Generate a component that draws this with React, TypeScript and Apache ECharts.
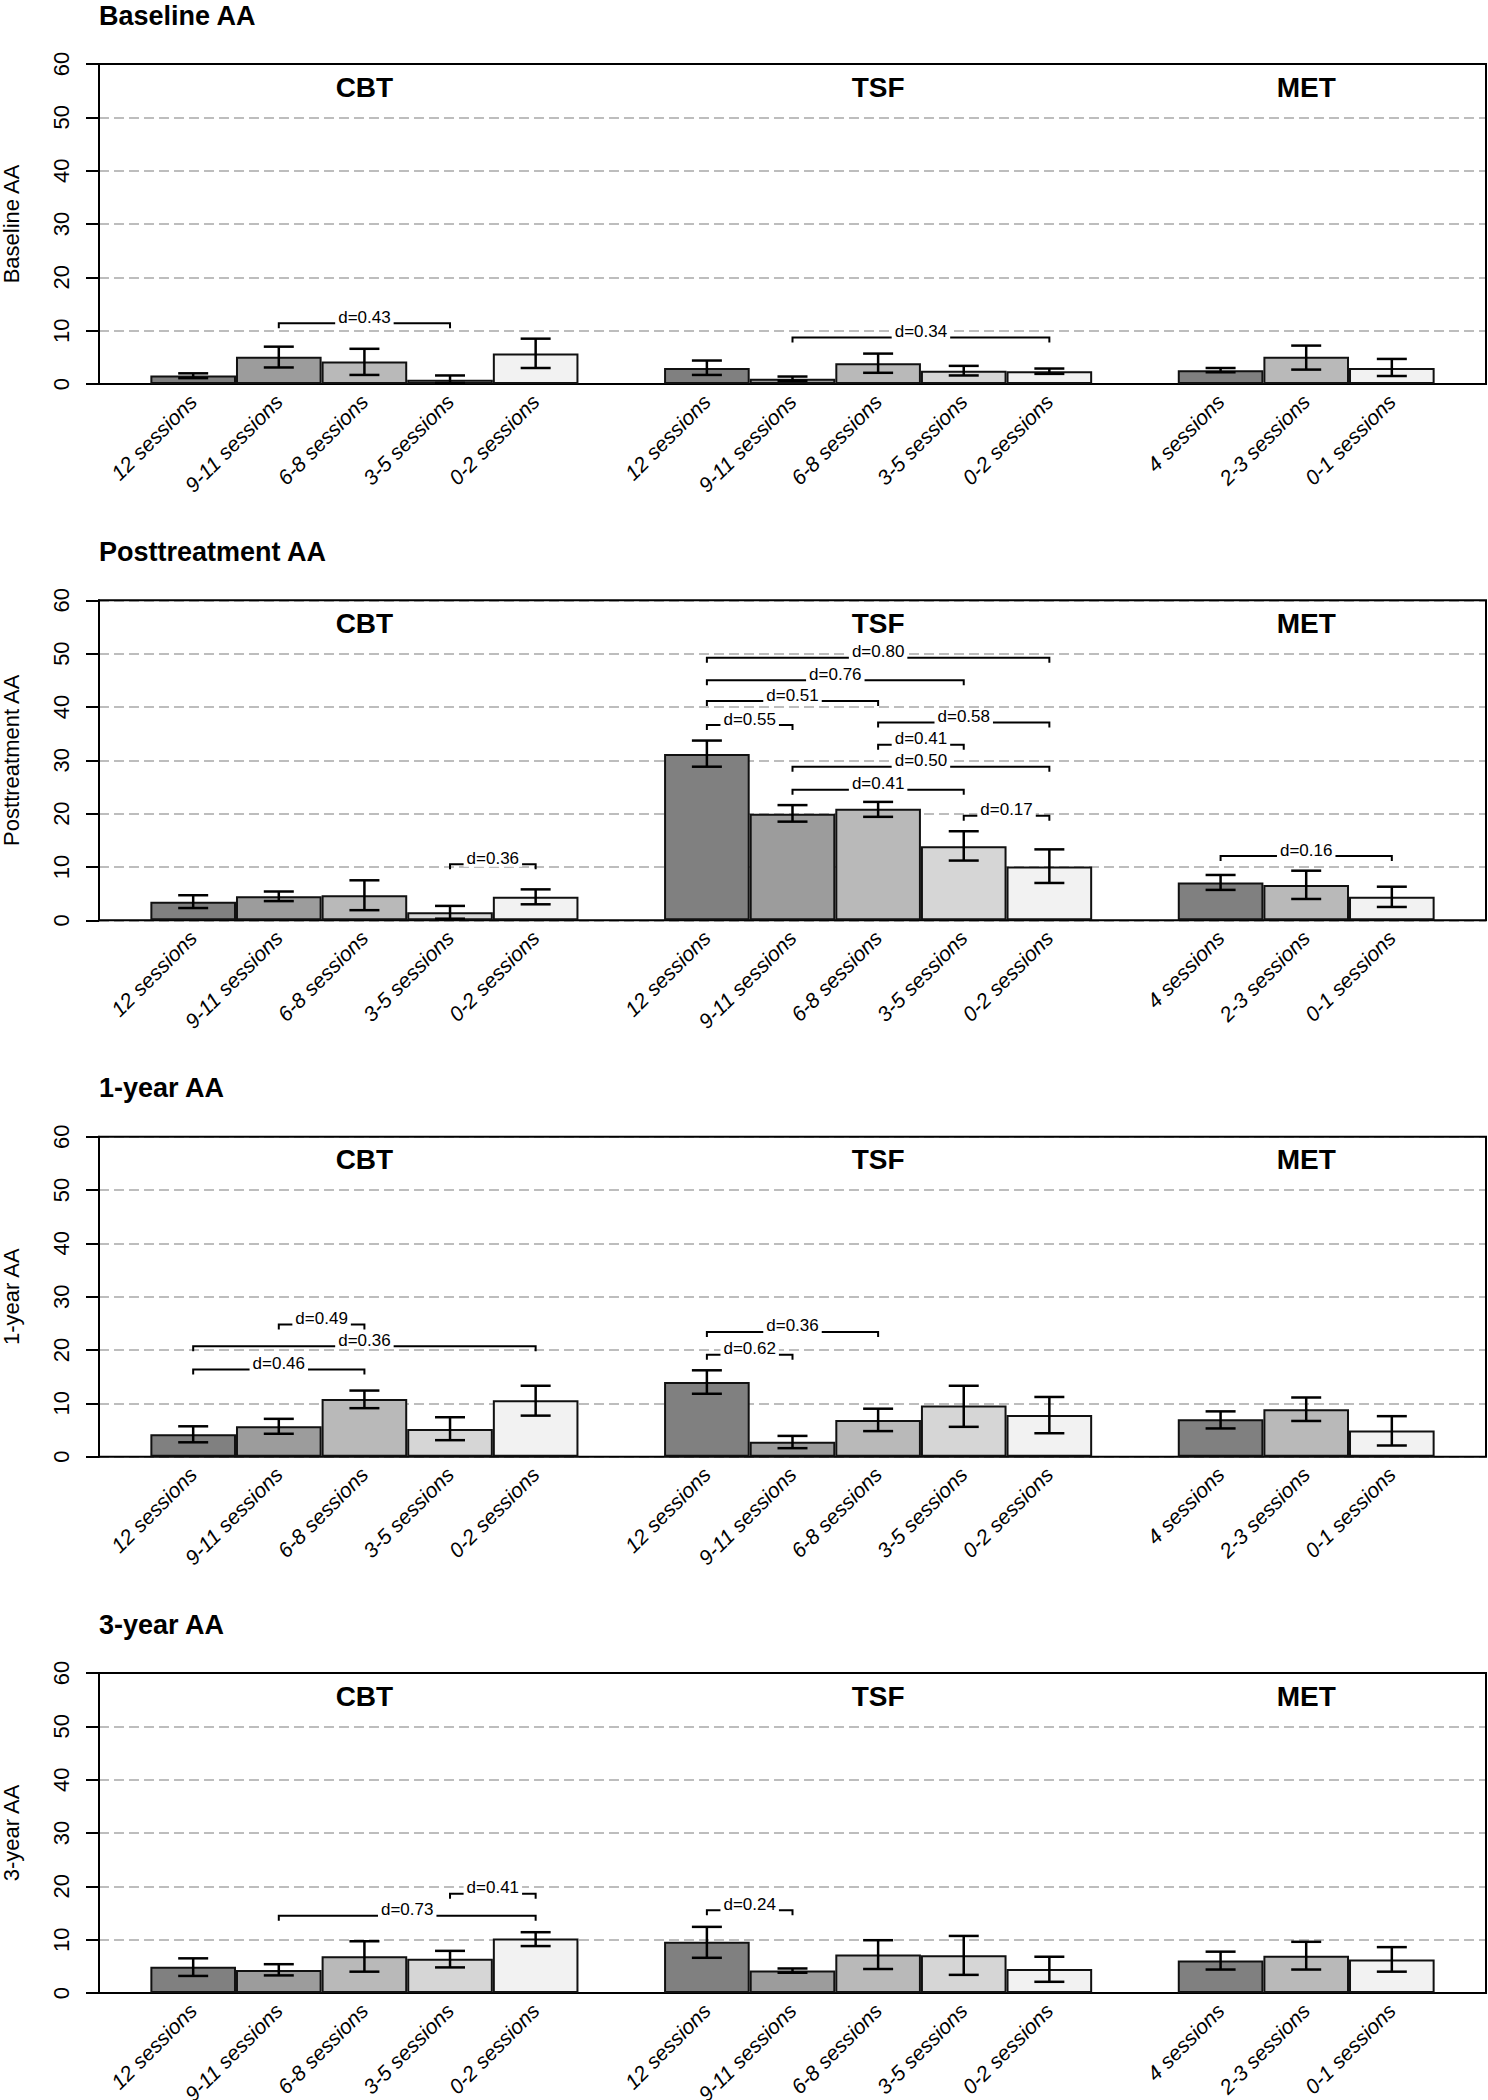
import React, { useEffect, useRef } from 'react';
import * as echarts from 'echarts';

// ---------- data ----------
const panelTitles = ['Baseline AA', 'Posttreatment AA', '1-year AA', '3-year AA'];
const categories = [
  '12 sessions', '9-11 sessions', '6-8 sessions', '3-5 sessions', '0-2 sessions', ' ',
  '12 sessions', '9-11 sessions', '6-8 sessions', '3-5 sessions', '0-2 sessions', '  ',
  '4 sessions', '2-3 sessions', '0-1 sessions',
];
const groupNames = ['CBT', 'TSF', 'MET'];
const groupCenterSlots = [2, 8, 13];
const barSlots = [0, 1, 2, 3, 4, 6, 7, 8, 9, 10, 12, 13, 14];
const yTicks = [0, 10, 20, 30, 40, 50, 60];

const baselineMean = [1.6, 5.1, 4.2, 0.8, 5.7, 3.0, 1.0, 3.9, 2.5, 2.4, 2.6, 5.1, 3.0];
const baselineLow = [1.1, 3.1, 1.7, 0.2, 3.0, 1.7, 0.6, 2.1, 1.6, 1.9, 2.2, 2.7, 1.5];
const baselineHigh = [2.0, 7.0, 6.6, 1.6, 8.5, 4.4, 1.4, 5.7, 3.4, 2.9, 3.0, 7.2, 4.7];

const postMean = [3.5, 4.5, 4.7, 1.5, 4.4, 31.2, 20.0, 20.9, 13.9, 10.1, 7.1, 6.6, 4.4];
const postLow = [2.3, 3.6, 1.9, 0.3, 3.0, 28.8, 18.5, 19.4, 11.2, 7.0, 5.7, 4.0, 2.5];
const postHigh = [4.7, 5.4, 7.5, 2.7, 5.8, 33.7, 21.6, 22.2, 16.7, 13.3, 8.5, 9.3, 6.3];

const year1Mean = [4.2, 5.7, 10.8, 5.2, 10.6, 14.0, 2.8, 6.9, 9.6, 7.8, 7.0, 8.9, 4.9];
const year1Low = [2.7, 4.3, 9.1, 3.1, 7.7, 11.8, 1.6, 4.8, 5.6, 4.4, 5.3, 6.7, 2.1];
const year1High = [5.7, 7.1, 12.4, 7.4, 13.3, 16.2, 3.9, 9.0, 13.3, 11.2, 8.5, 11.1, 7.6];

const year3Mean = [4.9, 4.3, 6.9, 6.4, 10.2, 9.6, 4.2, 7.2, 7.1, 4.5, 6.1, 7.0, 6.3];
const year3Low = [3.2, 3.3, 4.0, 4.8, 8.8, 6.6, 3.8, 4.5, 3.4, 2.1, 4.4, 4.4, 4.0];
const year3High = [6.5, 5.4, 9.7, 7.9, 11.4, 12.4, 4.6, 9.9, 10.7, 6.8, 7.75, 9.6, 8.6];

// brackets: [fromSlot, toSlot, y, label]
const baselineBrackets: [number, number, number, string][] = [
  [1, 3, 11.4, 'd=0.43'],
  [7, 10, 8.7, 'd=0.34'],
];
const postBrackets: [number, number, number, string][] = [
  [3, 4, 10.5, 'd=0.36'],
  [6, 10, 49.25, 'd=0.80'],
  [6, 9, 45.0, 'd=0.76'],
  [6, 8, 41.1, 'd=0.51'],
  [6, 7, 36.6, 'd=0.55'],
  [8, 10, 37.1, 'd=0.58'],
  [8, 9, 32.9, 'd=0.41'],
  [7, 10, 28.8, 'd=0.50'],
  [7, 9, 24.5, 'd=0.41'],
  [9, 10, 19.6, 'd=0.17'],
  [12, 14, 12.05, 'd=0.16'],
];
const year1Brackets: [number, number, number, string][] = [
  [1, 2, 24.8, 'd=0.49'],
  [0, 4, 20.7, 'd=0.36'],
  [0, 2, 16.35, 'd=0.46'],
  [6, 8, 23.4, 'd=0.36'],
  [6, 7, 19.1, 'd=0.62'],
];
const year3Brackets: [number, number, number, string][] = [
  [1, 4, 14.5, 'd=0.73'],
  [3, 4, 18.6, 'd=0.41'],
  [6, 7, 15.5, 'd=0.24'],
];

const panelMeans = [baselineMean, postMean, year1Mean, year3Mean];
const panelLows = [baselineLow, postLow, year1Low, year3Low];
const panelHighs = [baselineHigh, postHigh, year1High, year3High];
const panelBrackets = [baselineBrackets, postBrackets, year1Brackets, year3Brackets];

// ---------- styles / layout ----------
const barColors = [
  '#808080', '#9c9c9c', '#b9b9b9', '#d6d6d6', '#f2f2f2',
  '#808080', '#9c9c9c', '#b9b9b9', '#d6d6d6', '#f2f2f2',
  '#808080', '#b9b9b9', '#f2f2f2',
];
const FONT = '"Liberation Sans", Arial, Helvetica, sans-serif';
const PANEL_TOP = [64, 600.3, 1136.7, 1673];
const PLOT_H = 320;
const BOX_LEFT = 99;
const BOX_W = 1387;
const X_MIN = -0.1;
const X_MAX = 16.1;
const UNIT = BOX_W / (X_MAX - X_MIN);
const BAR_LEFT = BOX_LEFT + (0.5 - X_MIN) * UNIT;
const BAR_W = 15 * UNIT;

function buildOption() {
  const grid: any[] = [];
  const xAxis: any[] = [];
  const yAxis: any[] = [];
  const series: any[] = [];
  const title: any[] = [];

  panelTitles.forEach((name, p) => {
    const top = PANEL_TOP[p];
    const gA = 2 * p;
    const gB = 2 * p + 1;
    title.push({
      text: name,
      left: BOX_LEFT,
      top: top - 62,
      padding: 0,
      textStyle: { fontSize: 27, fontWeight: 'bold', fontFamily: FONT, color: '#000' },
    });
    grid.push({
      left: BOX_LEFT, top, width: BOX_W, height: PLOT_H,
      containLabel: false, outerBoundsMode: 'none',
      show: true, borderColor: '#000', borderWidth: 2, backgroundColor: 'transparent', z: 2,
    });
    grid.push({
      left: BAR_LEFT, top, width: BAR_W, height: PLOT_H,
      containLabel: false, outerBoundsMode: 'none',
    });

    xAxis.push({ gridIndex: gA, type: 'value', min: X_MIN, max: X_MAX, show: false });
    xAxis.push({
      gridIndex: gB, type: 'category', data: categories, boundaryGap: true,
      axisLine: { show: false }, axisTick: { show: false },
      axisLabel: {
        interval: 0, rotate: 45, margin: 14, fontSize: 21, fontStyle: 'italic',
        fontFamily: FONT, color: '#000',
      },
    });
    yAxis.push({
      gridIndex: gA, type: 'value', min: yTicks[0], max: yTicks[yTicks.length - 1], interval: 10,
      name, nameLocation: 'middle', nameGap: 77,
      nameTextStyle: { fontSize: 22, fontFamily: FONT, color: '#000' },
      axisLine: { show: true, onZero: false, lineStyle: { color: '#000', width: 2 } },
      axisTick: { show: true, length: 13, lineStyle: { color: '#000', width: 2 } },
      axisLabel: { rotate: 90, fontSize: 22, margin: 27, fontFamily: FONT, color: '#000' },
      splitLine: { show: true, lineStyle: { color: '#bdbdbd', width: 2, type: [10, 5] } },
    });
    yAxis.push({ gridIndex: gB, type: 'value', min: 0, max: 60, show: false });

    const means = panelMeans[p];
    const lows = panelLows[p];
    const highs = panelHighs[p];
    const barData: any[] = categories.map(() => '-');
    barSlots.forEach((s, k) => {
      barData[s] = { value: means[k], itemStyle: { color: barColors[k] } };
    });
    series.push({
      type: 'bar', xAxisIndex: gB, yAxisIndex: gB, data: barData,
      barWidth: '100%', barGap: '0%', barCategoryGap: '0%',
      itemStyle: { borderColor: '#111', borderWidth: 2 }, z: 3, silent: true,
    });

    series.push({
      type: 'custom', xAxisIndex: gB, yAxisIndex: gB, z: 4, silent: true,
      encode: { x: 0, y: [1, 2] },
      data: barSlots.map((s, k) => [s, lows[k], highs[k]]),
      renderItem: (params: any, api: any) => {
        const i = api.value(0);
        const a = api.coord([i, api.value(1)]);
        const b = api.coord([i, api.value(2)]);
        const half = 15;
        const st = { stroke: '#000', lineWidth: 2.5 };
        return {
          type: 'group',
          children: [
            { type: 'line', shape: { x1: a[0], y1: a[1], x2: b[0], y2: b[1] }, style: st },
            { type: 'line', shape: { x1: a[0] - half, y1: a[1], x2: a[0] + half, y2: a[1] }, style: st },
            { type: 'line', shape: { x1: b[0] - half, y1: b[1], x2: b[0] + half, y2: b[1] }, style: st },
          ],
        };
      },
    });

    const brackets = panelBrackets[p];
    series.push({
      type: 'custom', xAxisIndex: gB, yAxisIndex: gB, z: 5, silent: true,
      encode: { x: 0, y: 2 },
      data: brackets.map((b) => [b[0], b[1], b[2]]),
      renderItem: (params: any, api: any) => {
        const a = api.coord([api.value(0), api.value(2)]);
        const b = api.coord([api.value(1), api.value(2)]);
        const label = brackets[params.dataIndex][3];
        return {
          type: 'group',
          children: [
            {
              type: 'polyline',
              shape: { points: [[a[0], a[1] + 5], [a[0], a[1]], [b[0], b[1]], [b[0], b[1] + 5]] },
              style: { stroke: '#000', lineWidth: 2, fill: null },
            },
            {
              type: 'text', x: (a[0] + b[0]) / 2, y: a[1] + 2.5,
              style: {
                text: label, fill: '#000', fontSize: 17, fontFamily: FONT,
                align: 'center', verticalAlign: 'bottom', backgroundColor: '#fff', padding: [0, 3],
              },
            },
          ],
        };
      },
    });

    series.push({
      type: 'custom', xAxisIndex: gB, yAxisIndex: gB, z: 5, silent: true,
      encode: { x: 0, y: 1 },
      data: groupCenterSlots.map((s) => [s, 60]),
      renderItem: (params: any, api: any) => {
        const c = api.coord([api.value(0), api.value(1)]);
        return {
          type: 'text', x: c[0], y: c[1] + 23,
          style: {
            text: groupNames[params.dataIndex], fill: '#000', fontSize: 28, fontWeight: 'bold',
            fontFamily: FONT, align: 'center', verticalAlign: 'middle',
          },
        };
      },
    });
  });

  return {
    animation: false,
    backgroundColor: '#fff',
    textStyle: { fontFamily: FONT },
    title, grid, xAxis, yAxis, series,
  };
}

export default function App() {
  const ref = useRef<HTMLDivElement>(null);
  useEffect(() => {
    document.body.style.margin = '0';
    if (!ref.current) return;
    const chart = echarts.init(ref.current, undefined, { renderer: 'svg' });
    chart.setOption(buildOption());
    return () => chart.dispose();
  }, []);
  return <div ref={ref} style={{ width: 1488, height: 2100 }} />;
}
